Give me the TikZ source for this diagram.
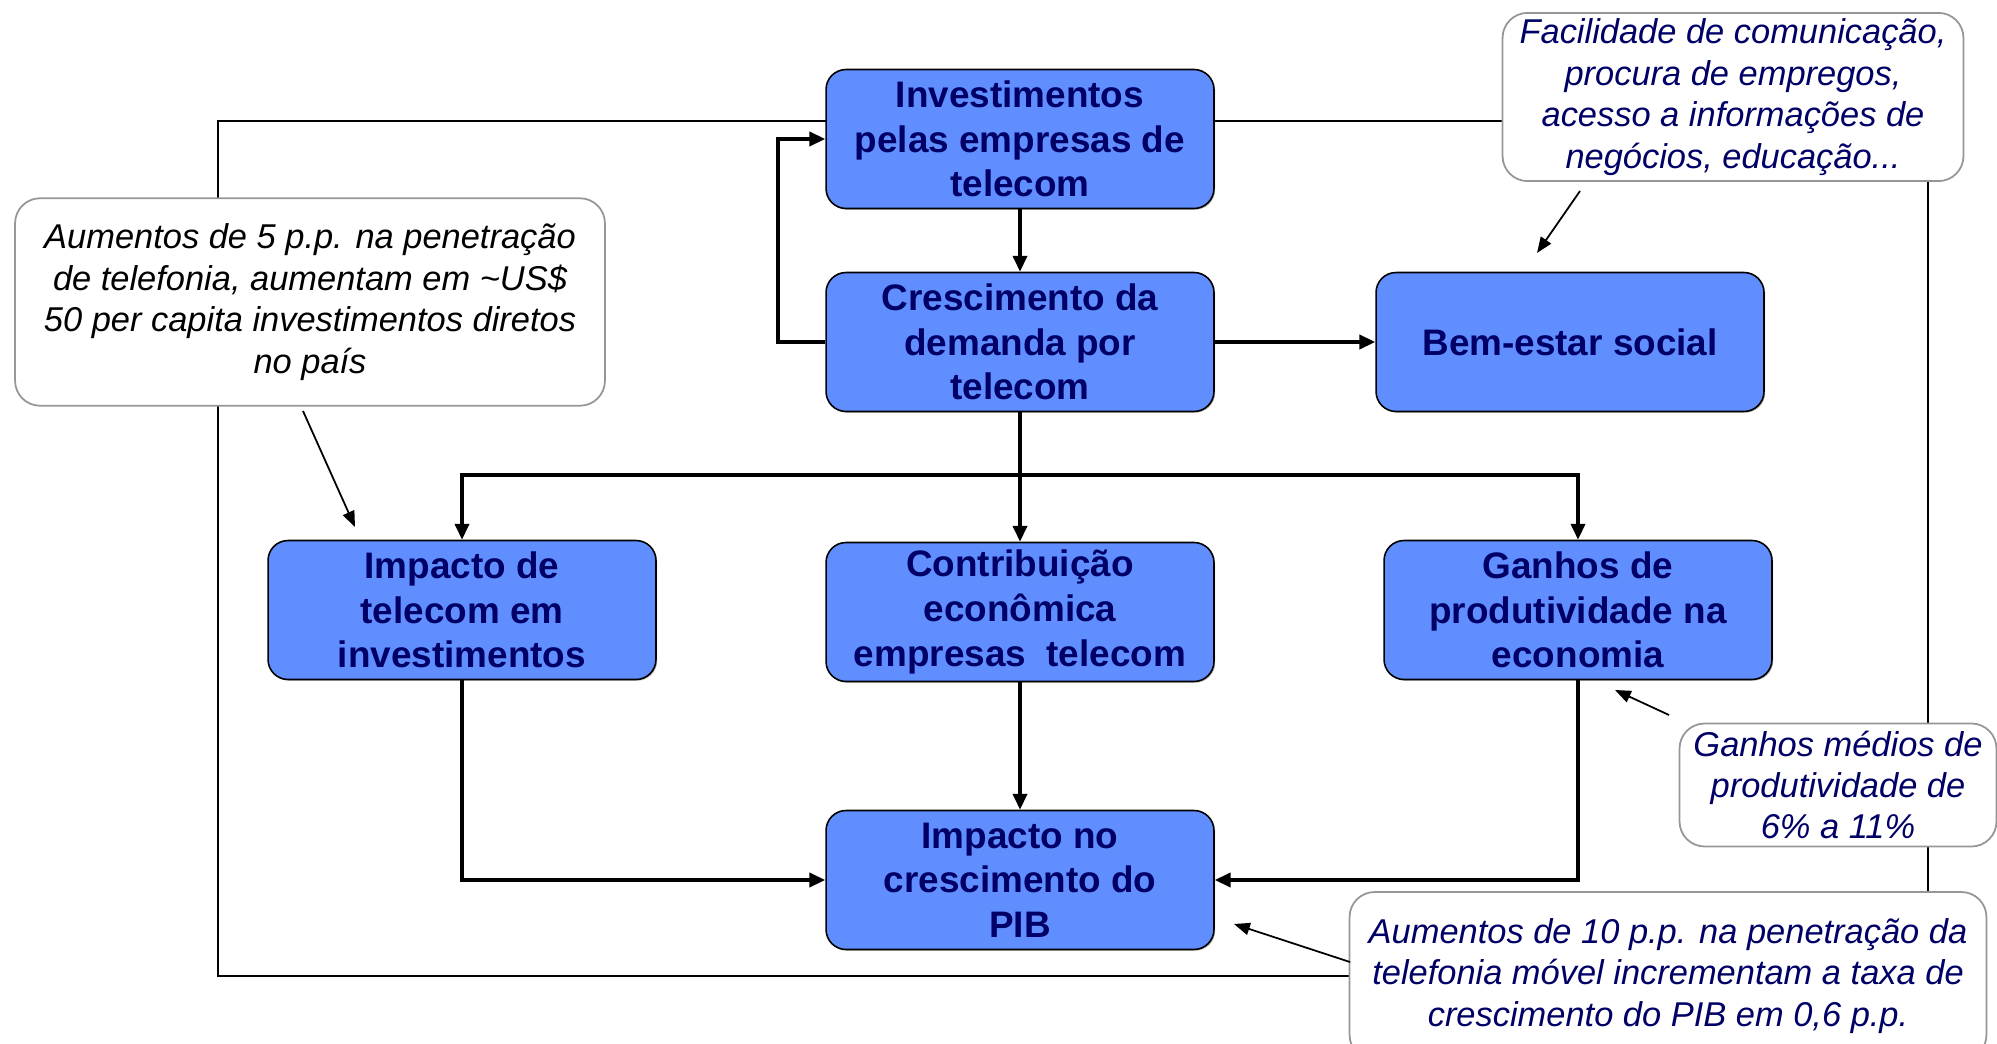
\documentclass[tikz,border=0pt]{standalone}
\usepackage{fontspec}
\setmainfont{Liberation Sans}
\usetikzlibrary{arrows.meta,shadows}
\definecolor{boxblue}{RGB}{97,142,255}
\definecolor{navy}{RGB}{0,0,102}
\definecolor{notegray}{RGB}{150,150,150}
\tikzset{
    block/.style={draw=black, line width=0.9pt, fill=boxblue, rounded corners=0.4cm,
        minimum width=7.76cm, minimum height=2.78cm, align=center, text=navy,
        font=\fontsize{21}{25.4}\selectfont\bfseries,
        drop shadow={shadow xshift=0.7pt, shadow yshift=-0.7pt, fill=black!50, opacity=0.6}},
    note/.style={draw=notegray, line width=1pt, fill=white, rounded corners=0.5cm,
        align=center, text=navy, font=\fontsize{19.6}{23.6}\selectfont\itshape},
    flow/.style={line width=1.9pt, -{Triangle[length=9pt,width=8pt]}},
    frame/.style={line width=1.1pt},
    hint/.style={line width=1pt, -{Triangle[length=9pt,width=7pt]}}
}
\begin{document}
\begin{tikzpicture}[x=0.02cm, y=-0.02cm]
    \useasboundingbox (0,0) rectangle (1997,1044);
    \coordinate (framenw) at (218,121);
    \coordinate (framese) at (1928,976);
    \draw[frame] (framenw) rectangle (framese);

    \node[block] (inv) at (1020,139) {Investimentos\\pelas empresas de\\telecom};
    \node[block] (cres) at (1020,342) {Crescimento da\\demanda por\\telecom};
    \node[block] (bem) at (1570,342) {Bem-estar social};
    \node[block] (imp) at (462,610) {Impacto de\\telecom em\\investimentos};
    \node[block] (contr) at (1020,612) {Contribuição\\econômica\\empresas~~telecom};
    \node[block] (ganhos) at (1578,610) {Ganhos de\\produtividade na\\economia};
    \node[block] (pib) at (1020,880) {Impacto no\\crescimento do\\PIB};

    \node[note, text=black, minimum width=11.8cm, minimum height=4.15cm] (notea) at (310,302)
        {Aumentos de 5 p.p. na penetração\\de telefonia, aumentam em \textasciitilde US\$\\50 per capita investimentos diretos\\no país};
    \node[note, minimum width=9.22cm, minimum height=3.28cm] (noteb) at (1733,97)
        {Facilidade de comunicação,\\procura de empregos,\\acesso a informações de\\negócios, educação...};
    \node[note, minimum width=6.34cm, minimum height=2.46cm] (notec) at (1838,785)
        {Ganhos médios de\\produtividade de\\6\% a 11\%};
    \node[note, minimum width=12.74cm, minimum height=3.36cm] (noted) at (1668,976)
        {Aumentos de 10 p.p. na penetração da\\telefonia móvel incrementam a taxa de\\crescimento do PIB em 0,6 p.p.};

    \coordinate (back) at (778,342);
    \coordinate (split) at (1020,475);
    \draw[flow] (inv) -- (cres);
    \draw[flow] (cres.west) -- (back) |- (inv.west);
    \draw[flow] (cres) -- (bem);
    \draw[line width=1.9pt] (cres) -- (split);
    \draw[flow] (split) -| (imp.north);
    \draw[flow] (split) -- (contr);
    \draw[flow] (split) -| (ganhos.north);
    \draw[flow] (imp.south) |- (pib.west);
    \draw[flow] (contr) -- (pib);
    \draw[flow] (ganhos.south) |- (pib.east);

    \coordinate (hinta) at (303,411);
    \coordinate (tipa) at (355,527);
    \coordinate (hintb) at (1580,191);
    \coordinate (tipb) at (1537,253);
    \coordinate (hintc) at (1669,715);
    \coordinate (tipc) at (1615,690);
    \coordinate (hintd) at (1350,962);
    \coordinate (tipd) at (1234,924);
    \draw[hint] (hinta) -- (tipa);
    \draw[hint] (hintb) -- (tipb);
    \draw[hint] (hintc) -- (tipc);
    \draw[hint] (hintd) -- (tipd);
\end{tikzpicture}
\end{document}
